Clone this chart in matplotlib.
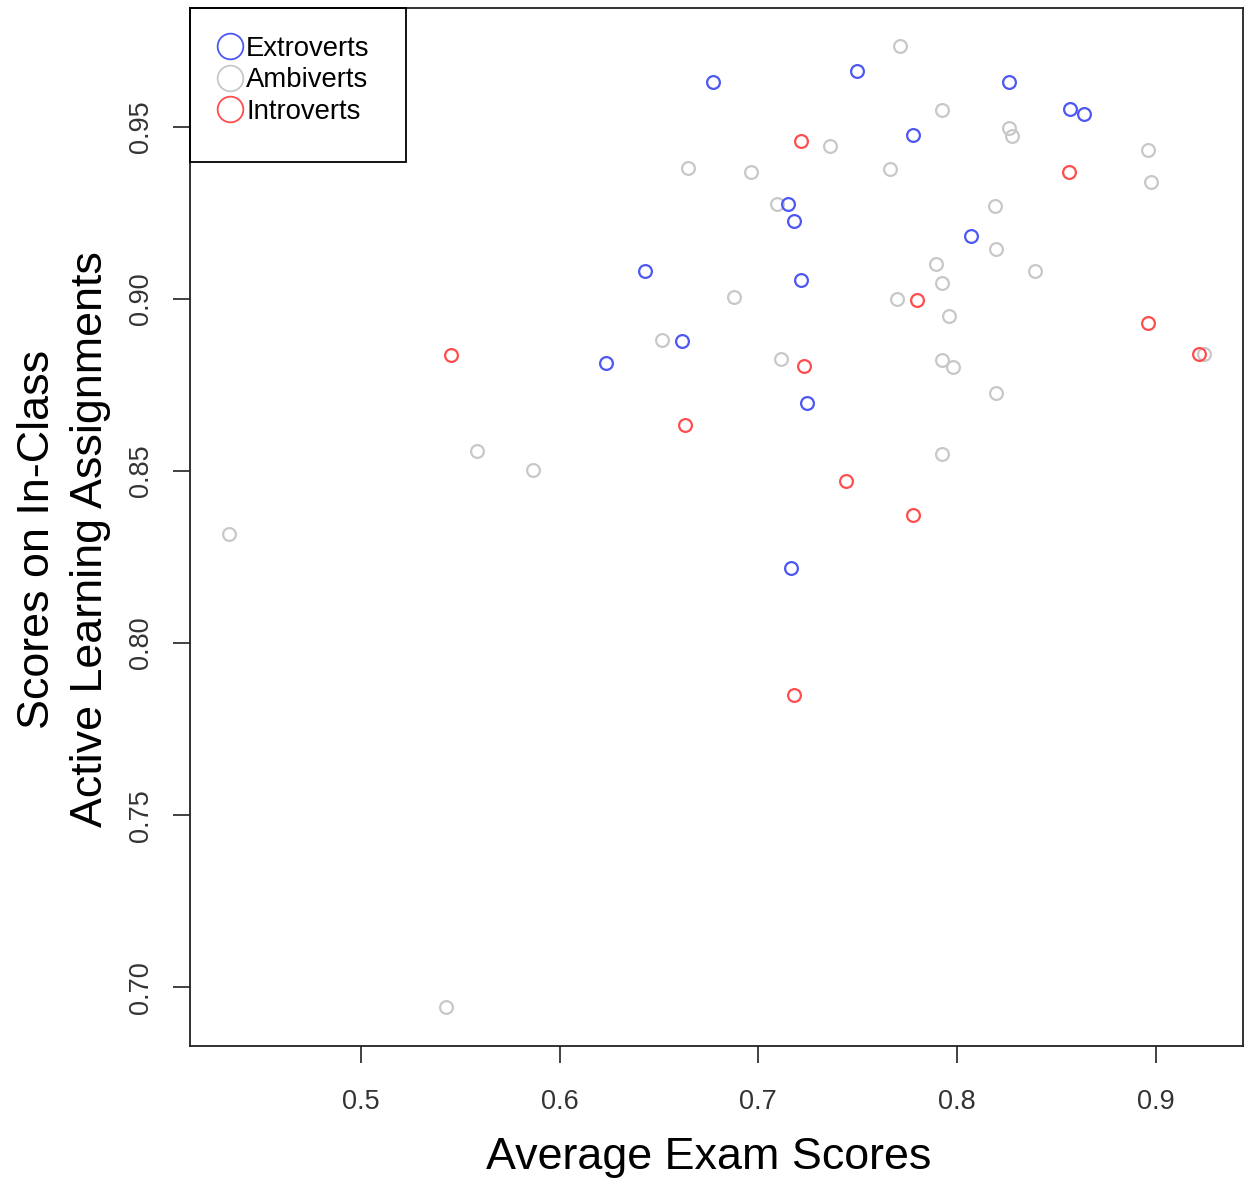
import matplotlib
matplotlib.use("Agg")
import matplotlib.pyplot as plt
from matplotlib.lines import Line2D
from matplotlib.patches import Rectangle

plt.rcParams['font.family'] = ['Liberation Sans', 'DejaVu Sans']

# Data
extro_x = [0.677, 0.7496, 0.826, 0.857, 0.864, 0.7777, 0.7148, 0.7179, 0.8069,
           0.6429, 0.7214, 0.6615, 0.6233, 0.7244, 0.7164]
extro_y = [0.963, 0.9663, 0.963, 0.9552, 0.9538, 0.9477, 0.9276, 0.9227, 0.9183,
           0.9081, 0.9055, 0.8878, 0.8814, 0.8698, 0.8218]

ambi_x = [0.7712, 0.7923, 0.826, 0.8276, 0.736, 0.896, 0.6645, 0.6962, 0.7662,
          0.8975, 0.7093, 0.819, 0.8195, 0.7893, 0.8391, 0.7923, 0.6877, 0.7697,
          0.7958, 0.6514, 0.7113, 0.7923, 0.7979, 0.9242, 0.8195, 0.5584, 0.5865,
          0.7923, 0.4336, 0.5428]
ambi_y = [0.9735, 0.9549, 0.9497, 0.9474, 0.9445, 0.9433, 0.9381, 0.9369, 0.9378,
          0.934, 0.9276, 0.927, 0.9145, 0.9102, 0.9081, 0.9047, 0.9006, 0.900,
          0.8951, 0.8881, 0.8826, 0.8823, 0.8802, 0.884, 0.8727, 0.8558, 0.8503,
          0.8549, 0.8317, 0.6942]

intro_x = [0.7214, 0.8562, 0.7797, 0.896, 0.5453, 0.9221, 0.7229, 0.663, 0.744,
           0.7777, 0.7179]
intro_y = [0.9459, 0.9369, 0.8997, 0.893, 0.8837, 0.884, 0.8805, 0.8634, 0.8471,
           0.8372, 0.7849]

groups = ["Extroverts", "Ambiverts", "Introverts"]
colors = ["#4d57f2", "#c8c8c8", "#ff4d4d"]

fig = plt.figure(figsize=(12.44, 11.8), dpi=100)
ax = fig.add_axes([190/1244, 1 - 1046/1180, (1243-190)/1244, (1046-8)/1180])

ms = 9.2
mew = 1.6
ax.plot(ambi_x, ambi_y, 'o', mfc='none', mec=colors[1], ms=ms, mew=mew, ls='none')
ax.plot(extro_x, extro_y, 'o', mfc='none', mec=colors[0], ms=ms, mew=mew, ls='none')
ax.plot(intro_x, intro_y, 'o', mfc='none', mec=colors[2], ms=ms, mew=mew, ls='none')

ax.set_xlim(0.414, 0.944)
ax.set_ylim(0.6829, 0.9846)
ax.set_xticks([0.5, 0.6, 0.7, 0.8, 0.9])
ax.set_xticklabels(["0.5", "0.6", "0.7", "0.8", "0.9"])
ax.set_yticks([0.70, 0.75, 0.80, 0.85, 0.90, 0.95])
ax.set_yticklabels(["0.70", "0.75", "0.80", "0.85", "0.90", "0.95"],
                   rotation=90, va='center')
ax.tick_params(axis='both', direction='out', length=12, width=1.3, color='#333333',
               labelsize=19.5, labelcolor='#333333', pad=14)
ax.tick_params(axis='x', pad=19)
for s in ax.spines.values():
    s.set_linewidth(1.3)
    s.set_color('#222222')

ax.set_xlabel("Average Exam Scores", fontsize=32.3, color='black')
ax.xaxis.set_label_coords(0.493, -0.088)
ax.set_ylabel("Scores on In-Class\nActive Learning Assignments", fontsize=32.3,
              labelpad=12, color='black', linespacing=1.37)
ax.yaxis.label.set_y(0.5 - 12/1038)

# Legend frame
ax.add_patch(Rectangle((0, 1 - (162-8)/1038), (406-190)/1053, (162-8)/1038,
                       transform=ax.transAxes, fill=False, ec='black', lw=1.3,
                       zorder=5, clip_on=False))
handles = [Line2D([], [], marker='o', ls='none', mfc='none', mec=c, ms=18.5, mew=1.3)
           for c in colors]
leg = ax.legend(handles, groups, loc='upper left',
                bbox_to_anchor=(0.005, 1 - 14/1038), frameon=False,
                fontsize=19.8, handletextpad=-0.15, labelspacing=0.2,
                borderpad=0, handlelength=1.5)
plt.savefig("out.png", dpi=100)
